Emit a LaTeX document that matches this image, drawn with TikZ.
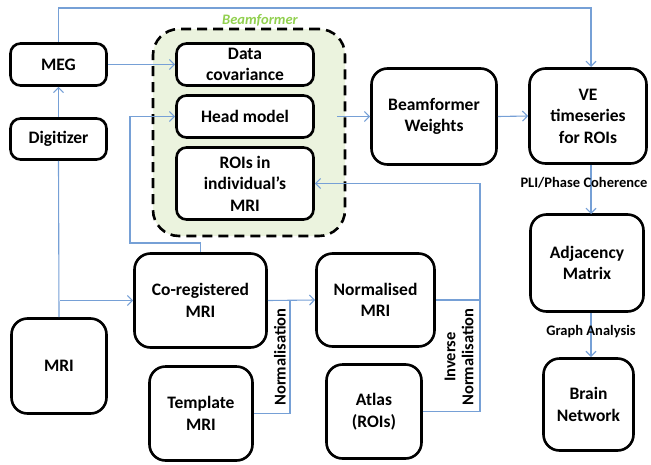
\documentclass[tikz,border=0pt]{standalone}
\usepackage{fontspec}
\setmainfont{Carlito}
\usetikzlibrary{arrows.meta,positioning}
\definecolor{linkblue}{RGB}{118,160,214}
\definecolor{bfgreen}{RGB}{146,208,80}
\definecolor{bffill}{RGB}{235,243,222}
\tikzset{
  box/.style={draw=black, fill=white, line width=2.6pt, rounded corners=#1, align=center,
    font=\fontsize{17.5}{21.5}\selectfont\bfseries, inner sep=2pt},
  box/.default=10pt,
  link/.style={draw=linkblue, line width=1.1pt},
  arr/.style={link, -{Straight Barb[length=5pt,width=10pt]}},
  lab/.style={font=\fontsize{14.5}{16}\selectfont\bfseries, inner sep=1pt},
  vlab/.style={font=\fontsize{16.5}{18}\selectfont\bfseries, inner sep=1pt, rotate=90, align=center},
}
\begin{document}
\begin{tikzpicture}[x=1pt,y=-1pt]
\useasboundingbox (0,0) rectangle (651,464);

% Beamformer group background
\node[draw=black, dash pattern=on 10pt off 6pt, line width=2.6pt, fill=bffill,
  rounded corners=26pt, minimum width=192pt, minimum height=207pt] (group) at (249,132.5) {};
\node[text=bfgreen, font=\fontsize{14.5}{16}\selectfont\itshape\bfseries] (grouplabel) at (260,20) {Beamformer};

% boxes
\node[box, minimum width=96pt, minimum height=42pt] (meg) at (58.5,64.5) {MEG};
\node[box, minimum width=96pt, minimum height=41pt] (dig) at (58.5,139) {Digitizer};
\node[box, minimum width=137pt, minimum height=42pt] (cov) at (245,64.5) {Data\\covariance};
\node[box, minimum width=137pt, minimum height=42pt] (head) at (245,116.5) {Head model};
\node[box, minimum width=137pt, minimum height=72pt] (rois) at (245,183.5) {ROIs in\\individual’s\\MRI};
\node[box=16pt, minimum width=125pt, minimum height=96pt] (bw) at (434,116.5) {Beamformer\\Weights};
\node[box=16pt, minimum width=117pt, minimum height=95pt] (ve) at (588,116) {VE\\timeseries\\for ROIs};
\node[box=16pt, minimum width=113pt, minimum height=97pt] (adj) at (587,263) {Adjacency\\Matrix};
\node[box=16pt, minimum width=90pt, minimum height=92pt] (brain) at (588.5,404.5) {Brain\\Network};
\node[box=16pt, minimum width=132pt, minimum height=94pt] (coreg) at (200.5,300.5) {Co-registered\\MRI};
\node[box=16pt, minimum width=95pt, minimum height=95pt] (mri) at (59,366) {MRI};
\node[box=16pt, minimum width=103pt, minimum height=94pt] (tmpl) at (201,413.5) {Template\\MRI};
\node[box=16pt, minimum width=118pt, minimum height=93pt] (norm) at (375.5,300) {Normalised\\MRI};
\node[box=16pt, minimum width=95pt, minimum height=94pt] (atlas) at (374,411.5) {Atlas\\(ROIs)};

% connector routing points
\coordinate (topL) at (meg.north |- 0,8);
\coordinate (topR) at (591,8);
\coordinate (veTop) at (591,67);
\coordinate (hmA) at (coreg.north |- 0,243);
\coordinate (hmB) at (130,243);
\coordinate (hmC) at (130,116.5);
\coordinate (coregIn) at (60,300.5);
\coordinate (nJ) at (290,300.5);
\coordinate (nB) at (290,413.5);
\coordinate (iA) at (480,300);
\coordinate (iB) at (480,411.5);
\coordinate (iC) at (480,183.5);
\coordinate (grpOut) at (337,116.5);
\coordinate (veBot) at (591,165);
\coordinate (adjTop) at (591,214);
\coordinate (adjBot) at (591,313);
\coordinate (brainTop) at (591,357);

% connectors
\draw[arr] (meg.north) -- (topL) -- (topR) -- (veTop);
\draw[arr] (meg.east) -- (cov.west);
\draw[arr] (dig.north) -- (meg.south);
\draw[link] (dig.south) -- (mri.north);
\draw[arr] (coregIn) -- (coreg.west);
\draw[arr] (coreg.north) -- (hmA) -- (hmB) -- (hmC) -- (head.west);
\draw[arr] (coreg.east) -- (norm.west);
\draw[link] (tmpl.east) -- (nB) -- (nJ);
\draw[link] (norm.east) -- (iA);
\draw[arr] (atlas.east) -- (iB) -- (iC) -- (rois.east);
\draw[arr] (grpOut) -- (bw.west);
\draw[arr] (bw.east) -- (ve.west);
\draw[arr] (veBot) -- (adjTop);
\draw[arr] (adjBot) -- (brainTop);

% connector labels
\node[vlab] (normlab) at (280,357) {Normalisation};
\node[vlab] (invlab) at (459,357) {Inverse\\Normalisation};
\node[lab] (plilab) at (584,183) {PLI/Phase Coherence};
\node[lab] (galab) at (591,332) {Graph Analysis};
\end{tikzpicture}
\end{document}
